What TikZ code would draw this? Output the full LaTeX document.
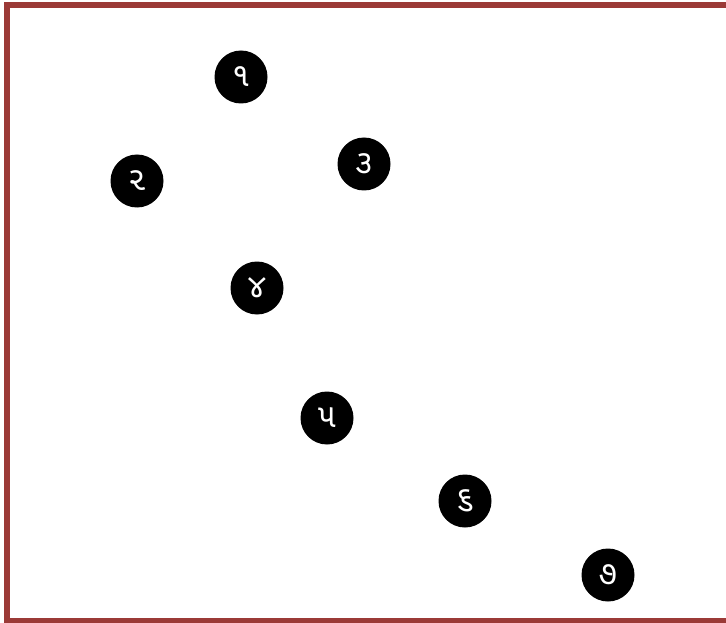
\documentclass[tikz,border=0pt]{standalone}
\usepackage{fontspec}
\newfontfamily\gujfont[Script=Gujarati]{Noto Sans Gujarati UI}
\usepackage{xcolor}
\definecolor{frame}{RGB}{155,58,55}

\begin{document}
\begin{tikzpicture}[x=1pt,y=-1pt,
  dot/.style={circle, fill=black, text=white, minimum size=53pt, inner sep=0pt,
    font=\gujfont\fontsize{33}{33}\selectfont}]

\useasboundingbox (0,0) rectangle (726,623);
\clip (0,0) rectangle (726,623);

\draw[frame, line width=6pt] (7,5) rectangle (740,621);

\node[dot] (n1) at (241,77) {૧};
\node[dot] (n2) at (137,181) {૨};
\node[dot] (n3) at (364,164) {૩};
\node[dot] (n4) at (257,288) {૪};
\node[dot] (n5) at (327,418) {૫};
\node[dot] (n6) at (465,501) {૬};
\node[dot] (n7) at (608,575) {૭};

\end{tikzpicture}
\end{document}
